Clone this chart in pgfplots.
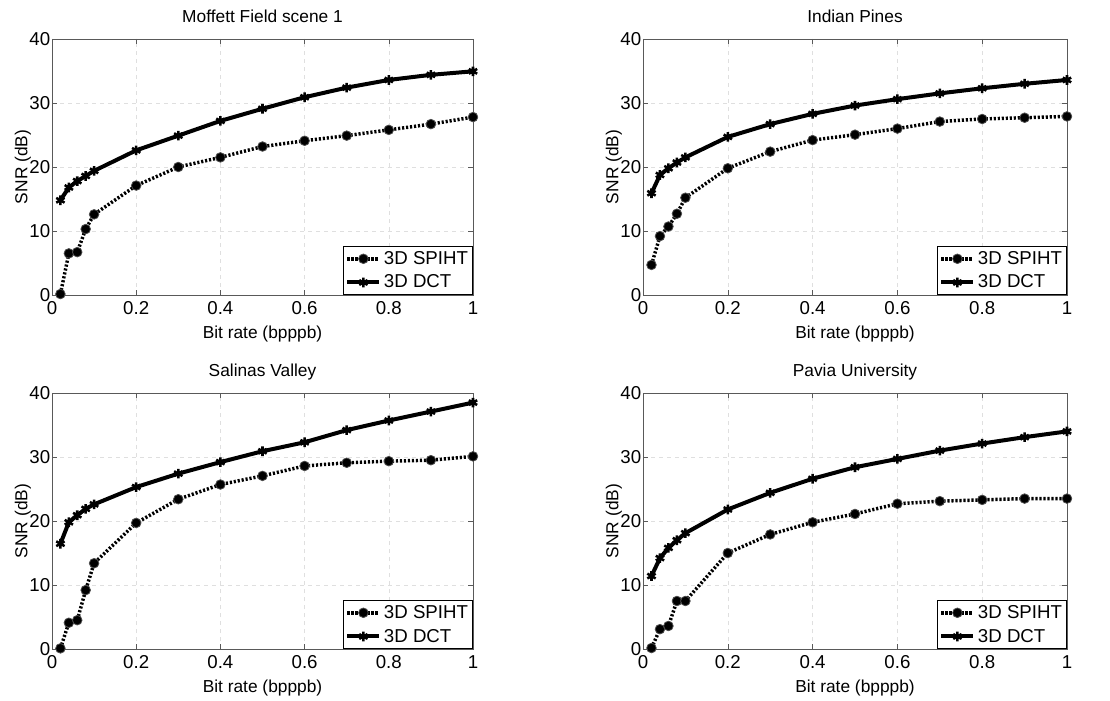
\documentclass[border=0pt]{standalone}
\usepackage{fontspec}
\setmainfont{Liberation Sans}
\usepackage{pgfplots}
\pgfplotsset{compat=1.18}

% one pixel of the 1110x700 reference = 0.75pt
\pgfplotsset{
  snr/.style={
    scale only axis,
    height=192pt,
    xmin=0, xmax=1, ymin=0, ymax=40,
    xtick={0,0.2,0.4,0.6,0.8,1},
    xticklabels={0,0.2,0.4,0.6,0.8,1},
    ytick={0,10,20,30,40},
    grid=major,
    major grid style={dashed, gray!25, line width=0.4pt},
    axis line style={gray!70!black, line width=0.5pt},
    tick style={gray!70!black},
    tick align=inside,
    major tick length=4pt,
    tick label style={font=\fontsize{14}{16}\selectfont},
    /pgf/number format/assume math mode=true,
    xlabel={Bit rate (bpppb)},
    ylabel={SNR (dB)},
    label style={font=\fontsize{13}{15}\selectfont},
    title style={font=\fontsize{13}{15}\selectfont, text depth=0pt, yshift=3pt},
    xlabel style={yshift=-1.5pt},
    ylabel style={yshift=-8pt},
    xticklabel style={yshift=-1.5pt},
    yticklabel style={xshift=2.2pt},
    legend style={at={(1,0)}, anchor=south east, draw=black, line width=0.5pt,
      font=\fontsize{14}{16}\selectfont, inner sep=1.5pt, row sep=2.5pt,
      legend cell align=left},
    legend image code/.code={
      \draw[mark repeat=2, mark phase=2] plot coordinates {(0cm,0cm) (0.42cm,0cm) (0.84cm,0cm)};},
  },
  spiht/.style={black, line width=2.6pt, dash pattern=on 1.6pt off 1.4pt,
    mark=*, mark size=3.6pt, mark options={solid, fill=black, draw=gray!60!black, line width=0.6pt}},
  dct/.style={black, line width=3pt, solid,
    mark=asterisk, mark size=3.6pt, mark options={solid, line width=1.9pt}},
}

\begin{document}
\begin{tikzpicture}
\useasboundingbox (0,0) rectangle (832.5pt,525pt);

\begin{axis}[snr, at={(39pt,303.75pt)}, anchor=south west, width=315.75pt,
  title={Moffett Field scene 1}]
\addplot[spiht] coordinates {(0.02,0.15) (0.04,6.5) (0.06,6.7) (0.08,10.3) (0.1,12.6) (0.2,17.1) (0.3,20.0) (0.4,21.5) (0.5,23.2) (0.6,24.1) (0.7,24.9) (0.8,25.8) (0.9,26.7) (1.0,27.8)};
\addplot[dct] coordinates {(0.02,14.8) (0.04,16.8) (0.06,17.8) (0.08,18.6) (0.1,19.4) (0.2,22.6) (0.3,24.9) (0.4,27.2) (0.5,29.1) (0.6,30.9) (0.7,32.4) (0.8,33.6) (0.9,34.4) (1.0,34.95)};
\legend{3D SPIHT, 3D DCT}
\end{axis}

\begin{axis}[snr, at={(482.25pt,303.75pt)}, anchor=south west, width=318pt,
  title={Indian Pines}]
\addplot[spiht] coordinates {(0.02,4.7) (0.04,9.2) (0.06,10.7) (0.08,12.7) (0.1,15.2) (0.2,19.8) (0.3,22.4) (0.4,24.2) (0.5,25.05) (0.6,26.0) (0.7,27.1) (0.8,27.5) (0.9,27.7) (1.0,27.9)};
\addplot[dct] coordinates {(0.02,15.9) (0.04,18.75) (0.06,19.8) (0.08,20.7) (0.1,21.5) (0.2,24.7) (0.3,26.7) (0.4,28.3) (0.5,29.6) (0.6,30.6) (0.7,31.5) (0.8,32.3) (0.9,33.0) (1.0,33.6)};
\legend{3D SPIHT, 3D DCT}
\end{axis}

\begin{axis}[snr, at={(39pt,38.25pt)}, anchor=south west, width=315.75pt,
  title={Salinas Valley}]
\addplot[spiht] coordinates {(0.02,0.1) (0.04,4.1) (0.06,4.5) (0.08,9.2) (0.1,13.4) (0.2,19.7) (0.3,23.4) (0.4,25.7) (0.5,27.05) (0.6,28.6) (0.7,29.1) (0.8,29.35) (0.9,29.5) (1.0,30.1)};
\addplot[dct] coordinates {(0.02,16.45) (0.04,19.8) (0.06,20.9) (0.08,21.9) (0.1,22.6) (0.2,25.3) (0.3,27.4) (0.4,29.2) (0.5,30.9) (0.6,32.3) (0.7,34.2) (0.8,35.7) (0.9,37.1) (1.0,38.5)};
\legend{3D SPIHT, 3D DCT}
\end{axis}

\begin{axis}[snr, at={(482.25pt,38.25pt)}, anchor=south west, width=318pt,
  title={Pavia University}]
\addplot[spiht] coordinates {(0.02,0.15) (0.04,3.1) (0.06,3.6) (0.08,7.5) (0.1,7.5) (0.2,15.0) (0.3,17.9) (0.4,19.8) (0.5,21.1) (0.6,22.7) (0.7,23.1) (0.8,23.3) (0.9,23.5) (1.0,23.5)};
\addplot[dct] coordinates {(0.02,11.4) (0.04,14.2) (0.06,15.8) (0.08,17.0) (0.1,18.1) (0.2,21.8) (0.3,24.4) (0.4,26.6) (0.5,28.4) (0.6,29.7) (0.7,31.0) (0.8,32.1) (0.9,33.1) (1.0,34.0)};
\legend{3D SPIHT, 3D DCT}
\end{axis}
\end{tikzpicture}
\end{document}
